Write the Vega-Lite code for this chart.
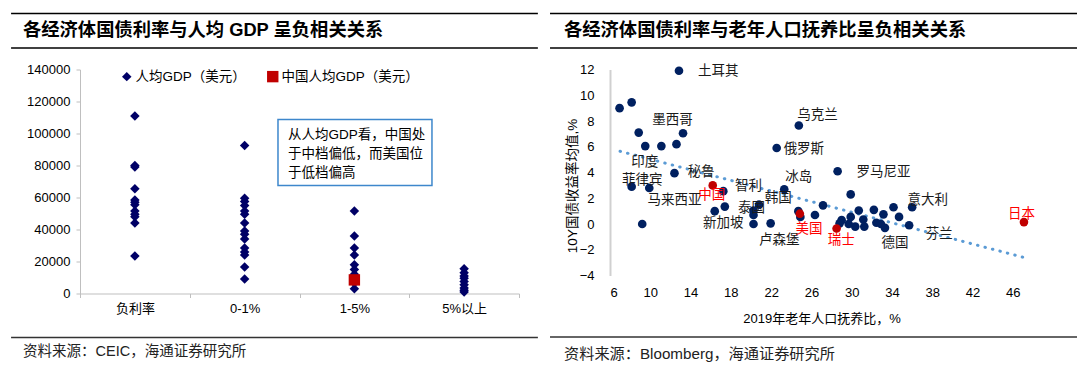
{
  "$schema": "https://vega.github.io/schema/vega-lite/v6.json",
  "background": "white",
  "padding": {"left": 10, "top": 12.5, "right": 0, "bottom": 0},
  "config": {
    "font": "Liberation Sans, Noto Sans CJK SC",
    "view": {"stroke": null},
    "axis": {"labelColor": "#000", "titleColor": "#000", "labelOverlap": false}
  },
  "datasets": {
    "gdp": [
      {"c": "负利率", "v": 111000, "s": "人均GDP（美元）"},
      {"c": "负利率", "v": 80000, "s": "人均GDP（美元）"},
      {"c": "负利率", "v": 79000, "s": "人均GDP（美元）"},
      {"c": "负利率", "v": 65500, "s": "人均GDP（美元）"},
      {"c": "负利率", "v": 58500, "s": "人均GDP（美元）"},
      {"c": "负利率", "v": 57000, "s": "人均GDP（美元）"},
      {"c": "负利率", "v": 55500, "s": "人均GDP（美元）"},
      {"c": "负利率", "v": 51500, "s": "人均GDP（美元）"},
      {"c": "负利率", "v": 49500, "s": "人均GDP（美元）"},
      {"c": "负利率", "v": 48000, "s": "人均GDP（美元）"},
      {"c": "负利率", "v": 44000, "s": "人均GDP（美元）"},
      {"c": "负利率", "v": 23500, "s": "人均GDP（美元）"},
      {"c": "0-1%", "v": 92500, "s": "人均GDP（美元）"},
      {"c": "0-1%", "v": 59500, "s": "人均GDP（美元）"},
      {"c": "0-1%", "v": 57500, "s": "人均GDP（美元）"},
      {"c": "0-1%", "v": 55000, "s": "人均GDP（美元）"},
      {"c": "0-1%", "v": 51500, "s": "人均GDP（美元）"},
      {"c": "0-1%", "v": 49500, "s": "人均GDP（美元）"},
      {"c": "0-1%", "v": 44000, "s": "人均GDP（美元）"},
      {"c": "0-1%", "v": 39000, "s": "人均GDP（美元）"},
      {"c": "0-1%", "v": 37000, "s": "人均GDP（美元）"},
      {"c": "0-1%", "v": 34000, "s": "人均GDP（美元）"},
      {"c": "0-1%", "v": 28500, "s": "人均GDP（美元）"},
      {"c": "0-1%", "v": 26000, "s": "人均GDP（美元）"},
      {"c": "0-1%", "v": 24000, "s": "人均GDP（美元）"},
      {"c": "0-1%", "v": 16500, "s": "人均GDP（美元）"},
      {"c": "0-1%", "v": 9000, "s": "人均GDP（美元）"},
      {"c": "1-5%", "v": 51500, "s": "人均GDP（美元）"},
      {"c": "1-5%", "v": 36000, "s": "人均GDP（美元）"},
      {"c": "1-5%", "v": 28500, "s": "人均GDP（美元）"},
      {"c": "1-5%", "v": 24000, "s": "人均GDP（美元）"},
      {"c": "1-5%", "v": 18000, "s": "人均GDP（美元）"},
      {"c": "1-5%", "v": 15000, "s": "人均GDP（美元）"},
      {"c": "1-5%", "v": 12000, "s": "人均GDP（美元）"},
      {"c": "1-5%", "v": 10000, "s": "人均GDP（美元）"},
      {"c": "1-5%", "v": 6500, "s": "人均GDP（美元）"},
      {"c": "1-5%", "v": 3000, "s": "人均GDP（美元）"},
      {"c": "5%以上", "v": 15500, "s": "人均GDP（美元）"},
      {"c": "5%以上", "v": 13000, "s": "人均GDP（美元）"},
      {"c": "5%以上", "v": 11000, "s": "人均GDP（美元）"},
      {"c": "5%以上", "v": 9500, "s": "人均GDP（美元）"},
      {"c": "5%以上", "v": 7500, "s": "人均GDP（美元）"},
      {"c": "5%以上", "v": 5500, "s": "人均GDP（美元）"},
      {"c": "5%以上", "v": 3500, "s": "人均GDP（美元）"},
      {"c": "5%以上", "v": 2000, "s": "人均GDP（美元）"},
      {"c": "5%以上", "v": 1000, "s": "人均GDP（美元）"},
      {"c": "1-5%", "v": 8500, "s": "中国人均GDP（美元）"}
    ],
    "pts": [
      {"x": 12.85, "y": 11.9, "k": "n"},
      {"x": 6.95, "y": 9.0, "k": "n"},
      {"x": 8.15, "y": 9.45, "k": "n"},
      {"x": 8.85, "y": 7.1, "k": "n"},
      {"x": 9.5, "y": 6.05, "k": "n"},
      {"x": 11.1, "y": 6.05, "k": "n"},
      {"x": 12.6, "y": 6.2, "k": "n"},
      {"x": 13.25, "y": 7.05, "k": "n"},
      {"x": 12.4, "y": 3.95, "k": "n"},
      {"x": 8.15, "y": 2.9, "k": "n"},
      {"x": 9.9, "y": 2.8, "k": "n"},
      {"x": 9.2, "y": 0.0, "k": "n"},
      {"x": 17.25, "y": 2.55, "k": "n"},
      {"x": 16.4, "y": 1.0, "k": "n"},
      {"x": 17.4, "y": 1.35, "k": "n"},
      {"x": 20.25, "y": 1.05, "k": "n"},
      {"x": 20.25, "y": 0.7, "k": "n"},
      {"x": 20.8, "y": 1.5, "k": "n"},
      {"x": 20.25, "y": 0.0, "k": "n"},
      {"x": 21.95, "y": 0.05, "k": "n"},
      {"x": 22.55, "y": 5.9, "k": "n"},
      {"x": 23.3, "y": 2.7, "k": "n"},
      {"x": 24.75, "y": 7.65, "k": "n"},
      {"x": 24.7, "y": 1.0, "k": "n"},
      {"x": 24.9, "y": 0.55, "k": "n"},
      {"x": 26.35, "y": 0.7, "k": "n"},
      {"x": 27.15, "y": 1.45, "k": "n"},
      {"x": 28.6, "y": 4.1, "k": "n"},
      {"x": 29.9, "y": 2.3, "k": "n"},
      {"x": 28.8, "y": 0.05, "k": "n"},
      {"x": 29.0, "y": 0.3, "k": "n"},
      {"x": 29.7, "y": 0.0, "k": "n"},
      {"x": 29.9, "y": 0.55, "k": "n"},
      {"x": 30.35, "y": -0.2, "k": "n"},
      {"x": 30.7, "y": 1.05, "k": "n"},
      {"x": 31.15, "y": 0.35, "k": "n"},
      {"x": 31.25, "y": -0.2, "k": "n"},
      {"x": 32.2, "y": 1.1, "k": "n"},
      {"x": 32.45, "y": 0.1, "k": "n"},
      {"x": 33.15, "y": 0.75, "k": "n"},
      {"x": 32.9, "y": 0.0, "k": "n"},
      {"x": 33.3, "y": -0.3, "k": "n"},
      {"x": 34.15, "y": 1.3, "k": "n"},
      {"x": 34.7, "y": 0.55, "k": "n"},
      {"x": 35.7, "y": -0.1, "k": "n"},
      {"x": 36.0, "y": 1.3, "k": "n"},
      {"x": 16.2, "y": 3.0, "k": "h"},
      {"x": 24.85, "y": 0.8, "k": "h"},
      {"x": 28.5, "y": -0.35, "k": "h"},
      {"x": 47.1, "y": 0.15, "k": "h"}
    ],
    "labs": [
      {"name": "土耳其", "x": 16.75, "y": 11.9, "k": "n"},
      {"name": "墨西哥", "x": 12.2, "y": 8.05, "k": "n"},
      {"name": "印度", "x": 9.45, "y": 4.8, "k": "n"},
      {"name": "菲律宾", "x": 9.2, "y": 3.45, "k": "n"},
      {"name": "马来西亚", "x": 12.4, "y": 1.85, "k": "n"},
      {"name": "秘鲁", "x": 15.05, "y": 4.05, "k": "n"},
      {"name": "中国", "x": 16.1, "y": 2.25, "k": "h"},
      {"name": "智利", "x": 19.75, "y": 2.95, "k": "n"},
      {"name": "新加坡", "x": 17.25, "y": 0.1, "k": "n"},
      {"name": "泰国", "x": 20.05, "y": 1.25, "k": "n"},
      {"name": "韩国", "x": 22.7, "y": 2.05, "k": "n"},
      {"name": "冰岛", "x": 24.75, "y": 3.65, "k": "n"},
      {"name": "卢森堡", "x": 22.8, "y": -1.25, "k": "n"},
      {"name": "俄罗斯", "x": 25.25, "y": 5.85, "k": "n"},
      {"name": "乌克兰", "x": 26.6, "y": 8.45, "k": "n"},
      {"name": "美国", "x": 25.75, "y": -0.35, "k": "h"},
      {"name": "瑞士", "x": 28.95, "y": -1.25, "k": "h"},
      {"name": "罗马尼亚", "x": 33.15, "y": 4.05, "k": "n"},
      {"name": "意大利", "x": 37.55, "y": 1.85, "k": "n"},
      {"name": "德国", "x": 34.3, "y": -1.45, "k": "n"},
      {"name": "芬兰", "x": 38.7, "y": -0.75, "k": "n"},
      {"name": "日本", "x": 46.85, "y": 0.75, "k": "h"}
    ],
    "trend": [
      {"x": 7, "y": 5.65},
      {"x": 47.1, "y": -2.6}
    ]
  },
  "spacing": 10,
  "resolve": {"scale": {"color": "independent", "shape": "independent", "size": "independent"}, "legend": {"color": "independent", "shape": "independent", "size": "independent"}},
  "hconcat": [
    {
      "spacing": 10,
      "resolve": {"scale": {"color": "independent", "shape": "independent", "size": "independent"}, "legend": {"color": "independent", "shape": "independent", "size": "independent"}},
      "vconcat": [
        {
          "width": 439, "height": 40,
          "data": {"values": [{}]},
          "layer": [
            {"mark": {"type": "rule", "color": "#000", "strokeWidth": 1.5},
             "encoding": {"x": {"datum": -0.157, "type": "quantitative", "scale": {"domain": [0, 1]}, "axis": null}, "x2": {"datum": 1.043},
                          "y": {"datum": 0, "type": "quantitative", "scale": {"domain": [0, 40], "reverse": true}, "axis": null}}},
            {"mark": {"type": "rule", "color": "#000", "strokeWidth": 1.5},
             "encoding": {"x": {"datum": -0.157, "type": "quantitative", "scale": {"domain": [0, 1]}, "axis": null}, "x2": {"datum": 1.043},
                          "y": {"datum": 34.4, "type": "quantitative", "scale": {"domain": [0, 40], "reverse": true}, "axis": null}}},
            {"mark": {"type": "text", "align": "left", "baseline": "middle", "fontSize": 18.3, "fontWeight": "bold", "color": "#000", "text": "各经济体国债利率与人均 GDP 呈负相关关系"},
             "encoding": {"x": {"datum": -0.1298, "type": "quantitative", "scale": {"domain": [0, 1]}, "axis": null},
                          "y": {"datum": 17.7, "type": "quantitative", "scale": {"domain": [0, 40], "reverse": true}, "axis": null}}}
          ]
        },
        {
          "width": 439, "height": 224,
          "resolve": {"scale": {"x": "independent"}},
          "layer": [
            {
              "data": {"name": "gdp"},
              "mark": {"type": "point", "filled": true, "opacity": 1},
              "encoding": {
                "x": {"field": "c", "type": "nominal",
                      "scale": {"type": "band", "domain": ["负利率", "0-1%", "1-5%", "5%以上"], "paddingInner": 0, "paddingOuter": 0},
                      "axis": {"title": null, "tickBand": "extent", "domainColor": "#bfbfbf", "tickColor": "#bfbfbf", "tickSize": 4, "labelPadding": 5, "labelAngle": 0, "labelFontSize": 13}},
                "y": {"field": "v", "type": "quantitative",
                      "scale": {"domain": [0, 140000], "nice": false},
                      "axis": {"title": null, "values": [0, 20000, 40000, 60000, 80000, 100000, 120000, 140000], "format": "d", "labelOverlap": false, "labelFlush": false, "grid": false, "domainColor": "#bfbfbf", "tickColor": "#bfbfbf", "tickSize": 4, "labelPadding": 6, "labelFontSize": 13}},
                "color": {"field": "s", "type": "nominal",
                          "scale": {"domain": ["人均GDP（美元）", "中国人均GDP（美元）"], "range": ["#000066", "#c00000"]},
                          "legend": {"orient": "none", "legendX": 40, "legendY": 0, "direction": "horizontal", "title": null, "labelFontSize": 13.5, "labelColor": "#000", "labelOffset": 2, "columnPadding": 20}},
                "shape": {"field": "s", "type": "nominal",
                          "scale": {"domain": ["人均GDP（美元）", "中国人均GDP（美元）"], "range": ["diamond", "square"]}},
                "size": {"field": "s", "type": "ordinal",
                         "scale": {"domain": ["人均GDP（美元）", "中国人均GDP（美元）"], "range": [90, 130]}}
              }
            },
            {
              "data": {"values": [{}]},
              "mark": {"type": "rect", "fill": "white", "stroke": "#3d87cc", "strokeWidth": 1.5},
              "encoding": {
                "x": {"datum": 1.804, "type": "quantitative", "scale": {"domain": [0, 4]}, "axis": null},
                "x2": {"datum": 3.207},
                "y": {"datum": 108750, "type": "quantitative", "scale": {"domain": [0, 140000], "nice": false},
                      "axis": {"title": null, "values": [0, 20000, 40000, 60000, 80000, 100000, 120000, 140000], "format": "d", "labelOverlap": false, "labelFlush": false, "grid": false, "domainColor": "#bfbfbf", "tickColor": "#bfbfbf", "tickSize": 4, "labelPadding": 6, "labelFontSize": 13}},
                "y2": {"datum": 67500}
              }
            },
            {
              "data": {"values": [{}]},
              "mark": {"type": "text", "align": "left", "baseline": "top", "fontSize": 13.5, "lineHeight": 19, "color": "#000",
                       "text": ["从人均GDP看，中国处", "于中档偏低，而美国位", "于低档偏高"]},
              "encoding": {
                "x": {"datum": 1.895, "type": "quantitative", "scale": {"domain": [0, 4]}, "axis": null},
                "y": {"datum": 103400, "type": "quantitative", "scale": {"domain": [0, 140000], "nice": false},
                      "axis": {"title": null, "values": [0, 20000, 40000, 60000, 80000, 100000, 120000, 140000], "format": "d", "labelOverlap": false, "labelFlush": false, "grid": false, "domainColor": "#bfbfbf", "tickColor": "#bfbfbf", "tickSize": 4, "labelPadding": 6, "labelFontSize": 13}}
              }
            }
          ]
        },
        {
          "width": 439, "height": 32,
          "data": {"values": [{}]},
          "layer": [
            {"mark": {"type": "rule", "color": "#333", "strokeWidth": 1.5},
             "encoding": {"x": {"datum": -0.157, "type": "quantitative", "scale": {"domain": [0, 1]}, "axis": null}, "x2": {"datum": 1.043},
                          "y": {"datum": 12, "type": "quantitative", "scale": {"domain": [0, 32], "reverse": true}, "axis": null}}},
            {"mark": {"type": "text", "align": "left", "baseline": "middle", "fontSize": 14.5, "color": "#222", "text": "资料来源：CEIC，海通证券研究所"},
             "encoding": {"x": {"datum": -0.1298, "type": "quantitative", "scale": {"domain": [0, 1]}, "axis": null},
                          "y": {"datum": 26, "type": "quantitative", "scale": {"domain": [0, 32], "reverse": true}, "axis": null}}}
          ]
        }
      ]
    },
    {
      "spacing": 10,
      "vconcat": [
        {
          "width": 423, "height": 40,
          "data": {"values": [{}]},
          "layer": [
            {"mark": {"type": "rule", "color": "#000", "strokeWidth": 1.5},
             "encoding": {"x": {"datum": -0.1418, "type": "quantitative", "scale": {"domain": [0, 1]}, "axis": null}, "x2": {"datum": 1.104},
                          "y": {"datum": 0, "type": "quantitative", "scale": {"domain": [0, 40], "reverse": true}, "axis": null}}},
            {"mark": {"type": "rule", "color": "#000", "strokeWidth": 1.5},
             "encoding": {"x": {"datum": -0.1418, "type": "quantitative", "scale": {"domain": [0, 1]}, "axis": null}, "x2": {"datum": 1.104},
                          "y": {"datum": 34.4, "type": "quantitative", "scale": {"domain": [0, 40], "reverse": true}, "axis": null}}},
            {"mark": {"type": "text", "align": "left", "baseline": "middle", "fontSize": 18.3, "fontWeight": "bold", "color": "#000", "text": "各经济体国债利率与老年人口抚养比呈负相关关系"},
             "encoding": {"x": {"datum": -0.1087, "type": "quantitative", "scale": {"domain": [0, 1]}, "axis": null},
                          "y": {"datum": 17.7, "type": "quantitative", "scale": {"domain": [0, 40], "reverse": true}, "axis": null}}}
          ]
        },
        {
          "width": 423, "height": 206,
          "encoding": {
            "x": {"field": "x", "type": "quantitative",
                  "scale": {"domain": [6, 48], "nice": false, "zero": false},
                  "axis": {"title": "2019年老年人口抚养比，%", "values": [6, 10, 14, 18, 22, 26, 30, 34, 38, 42, 46], "domain": false, "ticks": false, "grid": false, "labelPadding": 11, "labelFontSize": 13, "titleFontSize": 13, "titleFontWeight": "normal", "titlePadding": 13}},
            "y": {"field": "y", "type": "quantitative",
                  "scale": {"domain": [-4, 12], "nice": false, "zero": false},
                  "axis": {"title": "10Y国债收益率均值,%", "values": [-4, -2, 0, 2, 4, 6, 8, 10, 12], "labelOverlap": false, "domain": true, "domainColor": "#d0d0d0", "domainWidth": 2, "ticks": false, "grid": false, "labelPadding": 16, "labelFontSize": 13, "titleFontSize": 13.5, "titleFontWeight": "normal", "titlePadding": 0, "titleY": 116}}
          },
          "layer": [
            {
              "data": {"values": [{}]},
              "mark": {"type": "rule", "color": "#d0d0d0", "strokeWidth": 2},
              "encoding": {"x": {"datum": 6}, "x2": {"datum": 48}, "y": {"datum": 0}}
            },
            {
              "data": {"name": "trend"},
              "mark": {"type": "line", "color": "#5b9bd5", "strokeWidth": 3, "strokeCap": "round", "strokeDash": [0.5, 7.2]}
            },
            {
              "data": {"values": [{}]},
              "mark": {"type": "rule", "color": "#999", "strokeWidth": 1},
              "encoding": {"x": {"datum": 12.19}, "y": {"datum": 7.14}, "x2": {"datum": 11.2}, "y2": {"datum": 6.02}}
            },
            {
              "data": {"name": "pts"},
              "transform": [{"filter": "datum.k == 'n'"}],
              "mark": {"type": "point", "filled": true, "shape": "circle", "size": 75, "opacity": 1, "color": "#002060"}
            },
            {
              "data": {"name": "pts"},
              "transform": [{"filter": "datum.k == 'h'"}],
              "mark": {"type": "point", "filled": true, "shape": "circle", "size": 75, "opacity": 1, "color": "#c00000"}
            },
            {
              "data": {"name": "labs"},
              "transform": [{"filter": "datum.k == 'n'"}],
              "mark": {"type": "text", "fontSize": 13.5, "color": "#1a1a1a", "align": "center", "baseline": "middle"},
              "encoding": {"text": {"field": "name"}}
            },
            {
              "data": {"name": "labs"},
              "transform": [{"filter": "datum.k == 'h'"}],
              "mark": {"type": "text", "fontSize": 13.5, "color": "#ff0000", "align": "center", "baseline": "middle"},
              "encoding": {"text": {"field": "name"}}
            }
          ]
        },
        {
          "width": 423, "height": 28,
          "data": {"values": [{}]},
          "layer": [
            {"mark": {"type": "rule", "color": "#333", "strokeWidth": 1.5},
             "encoding": {"x": {"datum": -0.1418, "type": "quantitative", "scale": {"domain": [0, 1]}, "axis": null}, "x2": {"datum": 1.104},
                          "y": {"datum": 1.5, "type": "quantitative", "scale": {"domain": [0, 28], "reverse": true}, "axis": null}}},
            {"mark": {"type": "text", "align": "left", "baseline": "middle", "fontSize": 15.2, "color": "#222", "text": "资料来源：Bloomberg，海通证券研究所"},
             "encoding": {"x": {"datum": -0.1087, "type": "quantitative", "scale": {"domain": [0, 1]}, "axis": null},
                          "y": {"datum": 18.5, "type": "quantitative", "scale": {"domain": [0, 28], "reverse": true}, "axis": null}}}
          ]
        }
      ]
    }
  ]
}
